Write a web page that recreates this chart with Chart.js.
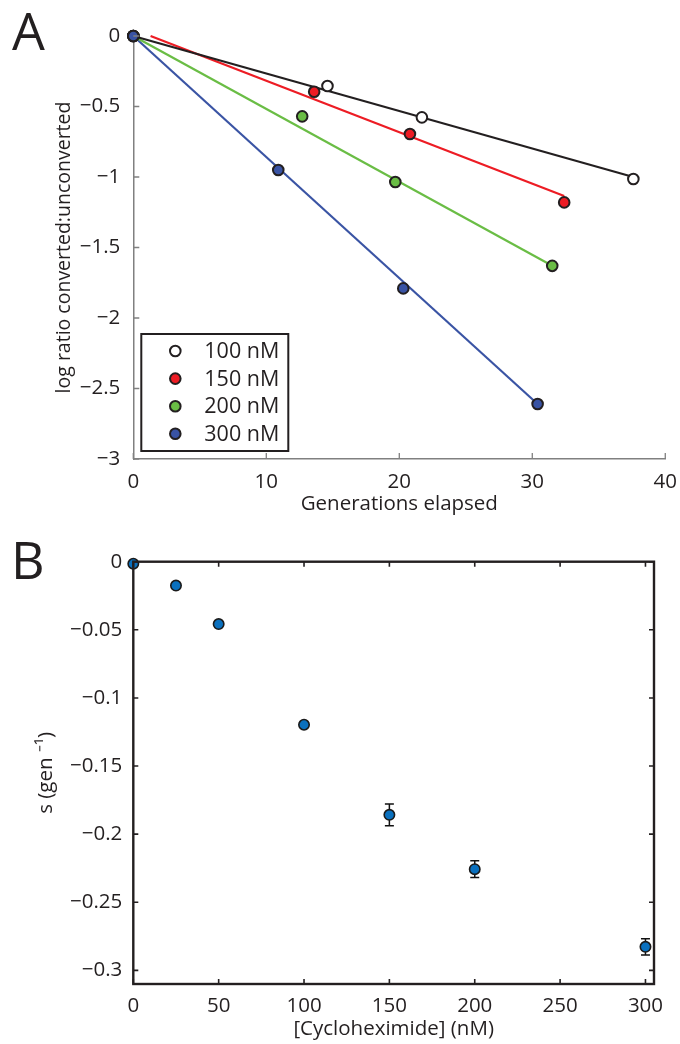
<!DOCTYPE html>
<html><head><meta charset="utf-8">
<script src="https://cdn.jsdelivr.net/npm/chart.js@4.4.0/dist/chart.umd.min.js"></script>
<style>
html,body{margin:0;padding:0;background:#fff;}
#wrap{position:relative;width:680px;height:1044px;overflow:hidden;background:#fff;}
#chartA{position:absolute;left:0;top:0;}
#chartB{position:absolute;left:0;top:520px;}
.lab{position:absolute;font-family:"Open Sans";font-size:52px;line-height:1;color:#231f20;}
</style></head><body>
<div id="wrap">
<canvas id="chartA" width="680" height="520"></canvas>
<canvas id="chartB" width="680" height="524"></canvas>
<div class="lab" style="left:12px;top:4px">A</div>
<div class="lab" style="left:11px;top:533px">B</div>
</div>
<script>
// ---------- Panel A data ----------
const seriesLabels = ['100 nM', '150 nM', '200 nM', '300 nM'];
const gen100 = [0, 14.6, 21.7, 37.6];
const ratio100 = [0, -0.355, -0.577, -1.014];
const gen150 = [0, 13.6, 20.8, 32.4];
const ratio150 = [0, -0.395, -0.695, -1.18];
const gen200 = [0, 12.7, 19.7, 31.5];
const ratio200 = [0, -0.57, -1.035, -1.63];
const gen300 = [0, 10.9, 20.3, 30.4];
const ratio300 = [0, -0.95, -1.79, -2.61];
// fitted lines (endpoints)
const fitGen100 = [0, 37.6];
const fitRatio100 = [0, -1.0];
const fitGen150 = [1.3, 32.4];
const fitRatio150 = [0, -1.135];
const fitGen200 = [0, 31.5];
const fitRatio200 = [0, -1.63];
const fitGen300 = [0, 30.4];
const fitRatio300 = [0, -2.61];
const tickAx = [0, 10, 20, 30, 40];
const tickAxLabels = ['0', '10', '20', '30', '40'];
const tickAy = [0, -0.5, -1, -1.5, -2, -2.5, -3];
const tickAyLabels = ['0', '\u22120.5', '\u22121', '\u22121.5', '\u22122', '\u22122.5', '\u22123'];

// ---------- Panel B data ----------
const concB = [0, 25, 50, 100, 150, 200, 300];
const sB = [-0.0015, -0.0175, -0.0458, -0.1197, -0.1858, -0.2257, -0.2827];
const sErrB = [0.0008, 0.001, 0.0018, 0.0018, 0.008, 0.0062, 0.006];
const tickBx = [0, 50, 100, 150, 200, 250, 300];
const tickBxLabels = ['0', '50', '100', '150', '200', '250', '300'];
const tickBy = [0, -0.05, -0.1, -0.15, -0.2, -0.25, -0.3];
const tickByLabels = ['0', '\u22120.05', '\u22120.1', '\u22120.15', '\u22120.2', '\u22120.25', '\u22120.3'];

const FONT = 'Open Sans';
const TXT = '#231f20';
const FS = 20.5;
const zip = (xs, ys) => xs.map((x, i) => ({x: x, y: ys[i]}));

// inward tick / box plugin
const frame = {
  id: 'frame',
  afterDraw(chart, args, opts) {
    const ctx = chart.ctx, a = chart.chartArea;
    const xs = chart.scales.x, ys = chart.scales.y;
    ctx.save();
    ctx.strokeStyle = opts.color;
    ctx.lineWidth = opts.width;
    const L = opts.len;
    ctx.beginPath();
    xs.ticks.forEach(t => {
      const p = xs.getPixelForValue(t.value);
      ctx.moveTo(p, a.bottom); ctx.lineTo(p, a.bottom - L);
      if (opts.box) { ctx.moveTo(p, a.top); ctx.lineTo(p, a.top + L); }
    });
    ys.ticks.forEach(t => {
      const p = ys.getPixelForValue(t.value);
      ctx.moveTo(a.left, p); ctx.lineTo(a.left + L, p);
      if (opts.box) { ctx.moveTo(a.right, p); ctx.lineTo(a.right - L, p); }
    });
    ctx.stroke();
    if (opts.box) {
      ctx.lineWidth = opts.boxWidth;
      ctx.strokeRect(a.left, a.top, a.right - a.left, a.bottom - a.top);
    }
    ctx.restore();
  }
};

// legend plugin for panel A
const boxLegend = {
  id: 'boxLegend',
  afterDraw(chart, args, opts) {
    if (!opts.show) return;
    const ctx = chart.ctx, a = chart.chartArea;
    const w = opts.w, h = opts.h;
    const x0 = a.left + opts.dx, y0 = a.bottom - opts.dy - h;
    ctx.save();
    ctx.fillStyle = '#fff';
    ctx.fillRect(x0, y0, w, h);
    ctx.strokeStyle = '#231f20';
    ctx.lineWidth = 2;
    ctx.strokeRect(x0, y0, w, h);
    const items = chart.data.datasets.filter(d => d.legendItem).sort((p, q) => p.legendItem - q.legendItem);
    ctx.font = '21.5px "' + FONT + '"';
    ctx.textBaseline = 'middle';
    ctx.textAlign = 'left';
    items.forEach((d, i) => {
      const cy = y0 + opts.firstRow + i * opts.rowGap;
      ctx.beginPath();
      ctx.arc(x0 + opts.markX, cy, 5.3, 0, Math.PI * 2);
      ctx.fillStyle = d.pointBackgroundColor;
      ctx.fill();
      ctx.lineWidth = 2;
      ctx.strokeStyle = d.pointBorderColor;
      ctx.stroke();
      ctx.fillStyle = TXT;
      ctx.fillText(d.label, x0 + opts.textX, cy + 1);
    });
    ctx.restore();
  }
};

// error bars for panel B
const errBars = {
  id: 'errBars',
  beforeDatasetsDraw(chart, args, opts) {
    if (!opts.show) return;
    const ctx = chart.ctx, xs = chart.scales.x, ys = chart.scales.y;
    ctx.save();
    ctx.strokeStyle = '#111';
    ctx.lineWidth = 1.5;
    ctx.beginPath();
    concB.forEach((c, i) => {
      const px = xs.getPixelForValue(c);
      const top = ys.getPixelForValue(sB[i] + sErrB[i]);
      const bot = ys.getPixelForValue(sB[i] - sErrB[i]);
      ctx.moveTo(px, top); ctx.lineTo(px, bot);
      ctx.moveTo(px - 4.5, top); ctx.lineTo(px + 4.5, top);
      ctx.moveTo(px - 4.5, bot); ctx.lineTo(px + 4.5, bot);
    });
    ctx.stroke();
    ctx.restore();
  }
};

function fitLine(xs, ys, color) {
  return {data: zip(xs, ys), showLine: true, pointRadius: 0, borderColor: color, borderWidth: 2.2, clip: false, order: 10};
}
function markers(label, xs, ys, fill, rank, order) {
  return {label: label, legendItem: rank, data: zip(xs, ys), showLine: false, pointRadius: 5.3, pointHoverRadius: 5.3,
    pointBackgroundColor: fill, pointBorderColor: '#231f20', pointBorderWidth: 2, clip: false, order: order};
}

Chart.defaults.font.family = FONT;
Chart.defaults.color = TXT;

new Chart(document.getElementById('chartA'), {
  type: 'scatter',
  data: {
    datasets: [
      markers(seriesLabels[3], gen300, ratio300, '#3953a4', 4, 1),
      markers(seriesLabels[2], gen200, ratio200, '#6abd45', 3, 2),
      markers(seriesLabels[1], gen150, ratio150, '#ed1c24', 2, 3),
      markers(seriesLabels[0], gen100, ratio100, '#ffffff', 1, 4),
      fitLine(fitGen100, fitRatio100, '#231f20'),
      fitLine(fitGen150, fitRatio150, '#ed1c24'),
      fitLine(fitGen200, fitRatio200, '#6abd45'),
      fitLine(fitGen300, fitRatio300, '#3a54a4')
    ]
  },
  options: {
    responsive: false,
    animation: false,
    events: [],
    layout: {padding: {top: 36, right: 12, left: 0, bottom: 0}},
    plugins: {
      legend: {display: false}, tooltip: {enabled: false},
      frame: {color: '#808080', width: 1.3, len: 6, box: false},
      boxLegend: {show: true, dx: 8, dy: 8, w: 147, h: 117, firstRow: 17, rowGap: 27.6, markX: 34, textX: 63},
      errBars: {show: false}
    },
    scales: {
      x: {
        type: 'linear', min: 0, max: 40,
        afterBuildTicks: s => { s.ticks = tickAx.map(v => ({value: v})); },
        afterFit: s => { s.height = 61; },
        grid: {display: false},
        border: {display: true, color: '#808080', width: 1.5},
        ticks: {padding: 3, font: {size: FS}, color: TXT, callback: (v, i) => tickAxLabels[i]},
        title: {display: true, text: 'Generations elapsed', font: {size: FS}, color: TXT, padding: {top: 0, bottom: 4}}
      },
      y: {
        type: 'linear', min: -3, max: 0,
        afterBuildTicks: s => { s.ticks = tickAy.map(v => ({value: v})); },
        afterFit: s => { s.width = 133.3; },
        grid: {display: false},
        border: {display: true, color: '#808080', width: 1.5},
        ticks: {padding: 5, font: {size: FS}, color: TXT, callback: (v, i) => tickAyLabels[i]},
        title: {display: true, text: 'log ratio converted:unconverted', font: {size: 19.5}, color: TXT, padding: {top: 53, bottom: 0}}
      }
    }
  },
  plugins: [frame, boxLegend, errBars]
});

new Chart(document.getElementById('chartB'), {
  type: 'scatter',
  data: {
    datasets: [{
      label: 's', data: zip(concB, sB), showLine: false, pointRadius: 5.2, pointHoverRadius: 5.2,
      pointBackgroundColor: '#0a70be', pointBorderColor: '#1a1a1a', pointBorderWidth: 1.6, clip: false
    }]
  },
  options: {
    responsive: false,
    animation: false,
    events: [],
    layout: {padding: {top: 41.7, right: 26, left: 0, bottom: 0}},
    plugins: {
      legend: {display: false}, tooltip: {enabled: false},
      frame: {color: '#231f20', width: 1.6, len: 5, box: true, boxWidth: 2.4},
      boxLegend: {show: false},
      errBars: {show: true}
    },
    scales: {
      x: {
        type: 'linear', min: 0, max: 305,
        afterBuildTicks: s => { s.ticks = tickBx.map(v => ({value: v})); },
        afterFit: s => { s.height = 60; },
        grid: {display: false},
        border: {display: false},
        ticks: {padding: 2, font: {size: FS}, color: TXT, callback: (v, i) => tickBxLabels[i]},
        title: {display: true, text: '[Cycloheximide] (nM)', font: {size: FS}, color: TXT, padding: {top: 0, bottom: 3}}
      },
      y: {
        type: 'linear', min: -0.31, max: 0,
        afterBuildTicks: s => { s.ticks = tickBy.map(v => ({value: v})); },
        afterFit: s => { s.width = 133.3; },
        grid: {display: false},
        border: {display: false},
        ticks: {padding: 3, font: {size: FS}, color: TXT, callback: (v, i) => tickByLabels[i]},
        title: {display: true, text: 's (gen \u207B\u00B9)', font: {size: FS}, color: TXT, padding: {top: 34, bottom: 0}}
      }
    }
  },
  plugins: [frame, errBars]
});
</script>
</body></html>
